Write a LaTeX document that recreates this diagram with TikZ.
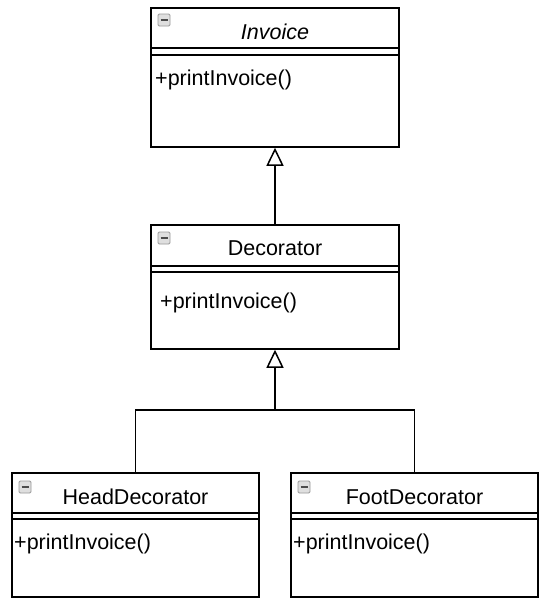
\documentclass[tikz,border=0pt]{standalone}
\usepackage{fontspec}
\setmainfont{Liberation Sans}
\usetikzlibrary{arrows.meta}
\tikzset{
  classbox/.style={draw=black, line width=1.5pt, fill=white, inner sep=0pt},
  sepline/.style={line width=1.5pt},
  title/.style={font=\fontsize{21.5}{26}\selectfont, inner sep=0pt},
  method/.style={font=\fontsize{21.5}{26}\selectfont, inner sep=0pt, anchor=west},
  conn/.style={line width=1.6pt},
  inh/.style={line width=1.6pt, -{Triangle[open, length=18pt, width=17pt, line width=1.5pt]}},
  icon/.style={draw=gray!80, fill=gray!25, rounded corners=1.2pt, minimum size=12pt, inner sep=0pt, line width=0.8pt,
    path picture={\draw[line width=2pt, black!70] ([xshift=2.5pt]path picture bounding box.west) -- ([xshift=-2.5pt]path picture bounding box.east);}}
}
\begin{document}
\begin{tikzpicture}[x=1pt,y=-1pt]
\useasboundingbox (0,0) rectangle (549,608);

% Invoice
\node[classbox, minimum width=248pt, minimum height=139pt] (inv) at (275,77.5) {};
\draw[sepline] (inv.west |- 0,48) -- (inv.east |- 0,48);
\draw[sepline] (inv.west |- 0,55) -- (inv.east |- 0,55);
\node[icon] (invicon) at (164,20) {};
\node[title] (invtitle) at (275,32) {\itshape Invoice};
\node[method] (invm) at (155,80) {+printInvoice()};

% Decorator
\node[classbox, minimum width=248pt, minimum height=124pt] (dec) at (275,287) {};
\draw[sepline] (dec.west |- 0,266) -- (dec.east |- 0,266);
\draw[sepline] (dec.west |- 0,272) -- (dec.east |- 0,272);
\node[icon] (decicon) at (164,238) {};
\node[title] (dectitle) at (275,248) {Decorator};
\node[method] (decm) at (160,303) {+printInvoice()};

% HeadDecorator
\node[classbox, minimum width=247pt, minimum height=124pt] (head) at (135.5,535) {};
\draw[sepline] (head.west |- 0,513) -- (head.east |- 0,513);
\draw[sepline] (head.west |- 0,519) -- (head.east |- 0,519);
\node[icon] (headicon) at (25,487) {};
\node[title] (headtitle) at (135.5,497) {HeadDecorator};
\node[method] (headm) at (14,544) {+printInvoice()};

% FootDecorator
\node[classbox, minimum width=247pt, minimum height=124pt] (foot) at (414.5,535) {};
\draw[sepline] (foot.west |- 0,513) -- (foot.east |- 0,513);
\draw[sepline] (foot.west |- 0,519) -- (foot.east |- 0,519);
\node[icon] (footicon) at (304,487) {};
\node[title] (foottitle) at (414.5,497) {FootDecorator};
\node[method] (footm) at (293,544) {+printInvoice()};

% connectors
\draw[inh] (dec.north) -- (inv.south);
\coordinate (j) at (275,410);
\draw[conn] (head.north) |- (j) -| (foot.north);
\draw[inh] (j) -- (dec.south);
\end{tikzpicture}
\end{document}
